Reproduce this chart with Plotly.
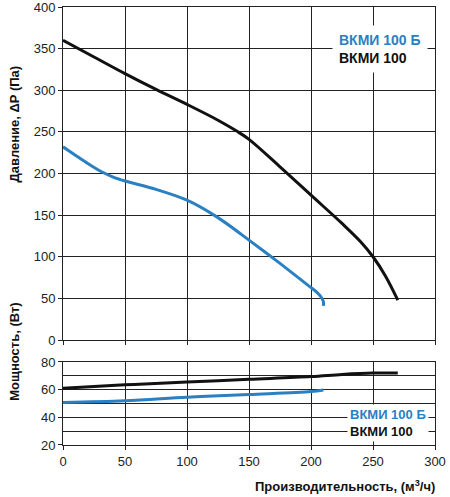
import plotly.graph_objects as go
from plotly.subplots import make_subplots

# ##### Data #####
flow_black = [0, 25, 50, 75, 100, 125, 140, 150, 175, 200, 225, 240, 250, 260, 270]
press_black = [360, 340, 320, 301, 283, 264, 251, 241, 208, 174, 140, 118, 100, 77, 48]

flow_blue = [0, 10, 20, 30, 40, 50, 75, 100, 125, 150, 175, 200, 205, 208, 210, 210]
press_blue = [232, 222, 212, 203, 196, 191, 181, 168, 147, 120, 92, 63, 57, 52, 46, 41]

power_flow_black = [0, 50, 100, 150, 200, 225, 250, 270]
power_black = [61, 63.5, 65.5, 67.5, 69.5, 71, 72, 72]

power_flow_blue = [0, 50, 100, 150, 200, 210]
power_blue = [50.8, 52, 54.5, 56.5, 58.7, 59.8]

x_ticks = [0, 50, 100, 150, 200, 250, 300]
name_blue = "ВКМИ 100 Б"
name_black = "ВКМИ 100"

BLUE = "#2a80c2"
BLACK = "#111111"
FONT = "Liberation Sans, Arial, sans-serif"

# ##### Figure #####
fig = make_subplots(rows=2, cols=1, shared_xaxes=False, vertical_spacing=0.0)

fig.add_trace(go.Scatter(x=flow_black, y=press_black, mode="lines",
                         line=dict(color=BLACK, width=3, shape="spline", smoothing=1.0),
                         name=name_black), row=1, col=1)
fig.add_trace(go.Scatter(x=flow_blue, y=press_blue, mode="lines",
                         line=dict(color=BLUE, width=3, shape="spline", smoothing=0.8),
                         name=name_blue), row=1, col=1)
fig.add_trace(go.Scatter(x=power_flow_black, y=power_black, mode="lines",
                         line=dict(color=BLACK, width=3, shape="spline"),
                         name=name_black), row=2, col=1)
fig.add_trace(go.Scatter(x=power_flow_blue, y=power_blue, mode="lines",
                         line=dict(color=BLUE, width=3, shape="spline"),
                         name=name_blue), row=2, col=1)

axis_common = dict(showline=True, linecolor="#222", linewidth=1, mirror=True, showgrid=True,
                   gridcolor="#222", gridwidth=1, zeroline=False, ticks="outside", ticklen=4,
                   tickcolor="#222", automargin=False, ticklabeloverflow="allow",
                   tickfont=dict(family=FONT, size=13, color="#222"))

# --- Axes ---
fig.update_xaxes(range=[0, 300], tickvals=x_ticks, **axis_common)
fig.update_xaxes(showticklabels=False, row=1, col=1)
fig.update_yaxes(**axis_common)
fig.update_yaxes(range=[0, 400], dtick=50, domain=[0.2397, 1.0], row=1, col=1)
fig.update_yaxes(range=[20, 80], tickvals=[20, 40, 60, 80], domain=[0.0, 0.1895], row=2, col=1)
# extra power grid every 10
fig.update_yaxes(minor=dict(dtick=10, showgrid=True, gridcolor="#222", gridwidth=1, ticks=""), row=2, col=1)

# --- Labels ---
fig.add_annotation(text="<b>Давление, ΔP (Па)</b>", xref="paper", yref="paper", x=-0.155, y=0.872,
                   textangle=-90, showarrow=False, font=dict(family=FONT, size=13, color="#111"))
fig.add_annotation(text="<b>Мощность, (Вт)</b>", xref="paper", yref="paper", x=-0.155, y=0.096,
                   textangle=-90, showarrow=False, font=dict(family=FONT, size=13, color="#111"))
fig.add_annotation(text="<b>Производительность, (м<sup>3</sup>/ч)</b>", xref="paper", yref="paper",
                   x=1.005, y=-0.07, xanchor="right", yanchor="top", showarrow=False,
                   font=dict(family=FONT, size=13, color="#111"))

# --- Legends as coloured text ---
fig.add_annotation(text=f"<b><span style='color:{BLUE}'>{name_blue}</span><br>{name_black}</b>",
                   xref="x", yref="y", x=256, y=349, showarrow=False, align="left", bgcolor="white",
                   borderpad=6, font=dict(family=FONT, size=14, color=BLACK))
fig.add_annotation(text=f"<b><span style='color:{BLUE}'>{name_blue}</span><br>{name_black}</b>",
                   xref="x2", yref="y2", x=262, y=36, showarrow=False, align="left", bgcolor="white",
                   borderpad=2, font=dict(family=FONT, size=13, color=BLACK))

fig.update_layout(width=450, height=497, margin=dict(l=63, r=15, t=7, b=52),
                  plot_bgcolor="white", paper_bgcolor="white", showlegend=False)

fig.write_html("out.html", config={"displayModeBar": False},
               post_script="document.body.style.margin='0';")
